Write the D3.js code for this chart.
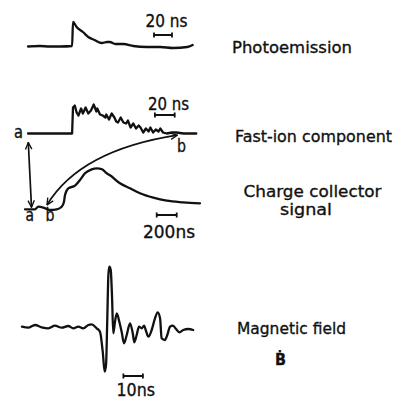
<!DOCTYPE html>
<html>
    <head>
        <title>Probe signals</title>
        <meta charset="UTF-8">
        <script src="https://cdnjs.cloudflare.com/ajax/libs/d3/7.9.0/d3.min.js"></script>
        <style>
            html, body {
                margin: 0;
                padding: 0;
                background: #fff;
            }
            text {
                font-family: 'DejaVu Sans', sans-serif;
                fill: #111;
                stroke: #111;
                stroke-width: 0.35px;
            }
        </style>
    </head>
    <body>
        <div id="chart"></div>
        <script>
            // photoemission trace (t in ns, v arb. units)
            var photoT = [0, 13, 24, 36, 49, 50, 54, 61, 67, 74, 82, 88, 91, 97, 106, 117, 132, 147, 161, 177, 183];
            var photoV = [0, 0.5, 0, 0, 0.5, 24.5, 19.5, 14.5, 9.5, 6.5, 3.5, 4.5, 4.5, 2.5, 2.5, 0.5, -0.5, -0.5, -1.5, -0.5, 1.5];

            // fast-ion component (t in ns)
            var fastT = [0, 49, 50, 52, 54, 56, 59, 61, 64, 67, 70, 73, 76, 77, 80, 83, 86, 87, 90, 93,
                         96, 98, 100, 103, 106, 109, 111, 114, 117, 120, 123, 125, 128, 131, 134, 136, 139, 142, 145, 147,
                         150, 154, 160, 165, 173, 180, 187];
            var fastV = [0, 0, 26, 28, 21, 18, 25, 20, 26, 20, 23, 29, 22, 25, 19, 18, 16, 19, 14, 20,
                         16, 12, 11, 16, 11, 10, 13, 6, 10, 5, 8, 6, 1, 5, 2, 6, 1, 4, 2, 5,
                         1, 0, 1, 1, 0, 0, 0];

            // charge collector signal (t in ns)
            var chargeT = [0, 100, 133, 183, 217, 250, 317, 367, 390, 400, 433, 500, 550, 600, 667, 720, 770, 817, 850, 950, 1050, 1150, 1283, 1417, 1583, 1750];
            var chargeV = [0, 0, 2.6, 1.6, 0.3, -0.7, 0, 2.6, 7.6, 14.3, 21, 23.6, 29.3, 36, 40, 41, 40, 36, 34, 26, 21, 16, 11.6, 8.6, 7, 6];

            // magnetic field B-dot (t in ns)
            var magT = [0, 3.2, 6.7, 10.1, 13.5, 16.9, 20.4, 23.7, 26.3, 28.9, 31.4, 34, 35.7, 38.3, 40, 41.4, 42.4, 43.1, 43.7, 44.3,
                        44.8, 45.5, 46.2, 46.8, 47.7, 48.6, 49.9, 51.1, 52.3, 53.7, 55.4, 56.8, 57.6, 58.8, 60, 61.4, 62.6, 63.6, 64.8, 66.5,
                        68.2, 69.6, 70.8, 71.6, 73.3, 74.5, 75.9, 77.3, 79, 80.7, 82.7, 85.3, 87.8];
            var magV = [1.3, 0.3, 3, 0.7, -0.3, 2.3, 0.3, 2, -0.3, 1.3, -0.3, 3, 3.7, -0.3, -3.7, -23.7, -43.7, -37, 6.3, 53,
                        61.3, 58, 29.7, -5.3, 6.3, 14.7, 6.3, -3.7, -15.3, -7, 4.7, -5.3, -14.3, -7, 1.3, -0.3, 2.3, -3, -8.7, -2,
                        9.7, 15.7, 9.7, -10.3, -12, -7, 1.3, 2.3, -1, -4.3, -2, -1, -2];

            // time scale bars [t0, t1, level]
            var photoBar = [140, 160, 11.5];
            var fastBar = [141, 163, 18.5];
            var chargeBar = [1317, 1517, -5.7];
            var magBar = [52, 62, -48];

            let w = 397;
            let h = 400;
            let ink = "#111";

            let svg = d3.select("#chart").append("svg")
                    .attr("width", w)
                    .attr("height", h)
                    .style("display", "block");

            let defs = svg.append("defs");
            defs.append("marker")
                    .attr("id", "arr")
                    .attr("viewBox", "0 0 10 10")
                    .attr("refX", 9.5)
                    .attr("refY", 5)
                    .attr("markerWidth", 8)
                    .attr("markerHeight", 8)
                    .attr("markerUnits", "userSpaceOnUse")
                    .attr("orient", "auto-start-reverse")
                    .append("path")
                    .attr("d", "M1,1 L9.5,5 L1,9")
                    .attr("fill", "none")
                    .attr("stroke", ink)
                    .attr("stroke-width", 1.7);

            function zip(ts, vs){
                return ts.map((t, i) => ({t: t, v: vs[i]}));
            }

            function trace(data, x, y, curve){
                let line = d3.line()
                        .curve(curve)
                        .x(d => x(d.t))
                        .y(d => y(d.v));
                svg.append("path")
                    .datum(data)
                    .attr("fill", "none")
                    .attr("stroke", ink)
                    .attr("stroke-width", 2.3)
                    .attr("stroke-linejoin", "round")
                    .attr("stroke-linecap", "round")
                    .attr("d", line);
            }

            function scaleBar(bar, x, y){
                let x0 = x(bar[0]), x1 = x(bar[1]), yy = y(bar[2]);
                svg.append("path")
                    .attr("fill", "none")
                    .attr("stroke", ink)
                    .attr("stroke-width", 1.8)
                    .attr("d", "M" + x0 + "," + (yy - 2.5) + "V" + (yy + 2.5)
                        + "M" + x0 + "," + yy + "H" + x1
                        + "M" + x1 + "," + (yy - 2.5) + "V" + (yy + 2.5));
            }

            function label(txt, x, y, len, size){
                let t = svg.append("text")
                    .attr("x", x)
                    .attr("y", y)
                    .style("font-size", (size || 16.5) + "px")
                    .text(txt);
                if(len){
                    t.attr("textLength", len).attr("lengthAdjust", "spacingAndGlyphs");
                }
                return t;
            }

            // scales per panel
            let xPhoto = d3.scaleLinear().domain([0, 186]).range([28, 28 + 186 * 0.9]);
            let yPhoto = d3.scaleLinear().domain([0, 25]).range([46.5, 21.5]);

            let xFast = d3.scaleLinear().domain([0, 190]).range([28, 28 + 190 * 0.9]);
            let yFast = d3.scaleLinear().domain([0, 30]).range([133.5, 103.5]);

            let xCharge = d3.scaleLinear().domain([0, 1750]).range([25, 200]);
            let yCharge = d3.scaleLinear().domain([0, 45]).range([209.3, 164.3]);

            let xMag = d3.scaleLinear().domain([0, 90]).range([22, 22 + 90 * 1.95]);
            let yMag = d3.scaleLinear().domain([-50, 65]).range([378, 263]);

            trace(zip(photoT, photoV), xPhoto, yPhoto, d3.curveMonotoneX);
            trace(zip(fastT, fastV), xFast, yFast, d3.curveLinear);
            trace(zip(chargeT, chargeV), xCharge, yCharge, d3.curveMonotoneX);
            trace(zip(magT, magV), xMag, yMag, d3.curveMonotoneX);

            scaleBar(photoBar, xPhoto, yPhoto);
            scaleBar(fastBar, xFast, yFast);
            scaleBar(chargeBar, xCharge, yCharge);
            scaleBar(magBar, xMag, yMag);

            label("20 ns", 145.5, 27, 42, 17);
            label("20 ns", 148, 110, 41, 17);
            label("200ns", 143, 238, 52, 17);
            label("10ns", 116.5, 395.5, 38.5, 17);

            // a / b markers
            label("a", 14, 137.7, 9, 18);
            label("b", 177, 151.7, 9, 18);
            label("a", 25.5, 220.5, 8.5, 18);
            label("b", 45.5, 220.5, 9, 18);

            // a -> a arrow
            let aTop = [xFast(0) + 0.3, yFast(0) + 9];
            let aBot = [xCharge(60) + 0.5, yCharge(0) - 2];
            svg.append("path")
                .attr("fill", "none")
                .attr("stroke", ink)
                .attr("stroke-width", 1.7)
                .attr("marker-start", "url(#arr)")
                .attr("marker-end", "url(#arr)")
                .attr("d", "M" + aTop[0] + "," + aTop[1] + "L" + aBot[0] + "," + aBot[1]);

            // b -> b arrow
            let bLow = [xCharge(220), yCharge(0.3) - 4];
            let bHigh = [xFast(166), yFast(1.3) + 3];
            let ctrl = [bLow[0] + 33, bHigh[1] + 15];
            svg.append("path")
                .attr("fill", "none")
                .attr("stroke", ink)
                .attr("stroke-width", 1.7)
                .attr("marker-start", "url(#arr)")
                .attr("marker-end", "url(#arr)")
                .attr("d", "M" + bLow[0] + "," + bLow[1] + "Q" + ctrl[0] + "," + ctrl[1] + " " + bHigh[0] + "," + bHigh[1]);

            // panel names
            label("Photoemission", 232, 52.7, 120);
            label("Fast-ion component", 235, 141.7, 157);
            label("Charge collector", 243.5, 197.3, 138);
            label("signal", 280, 214.5, 52);
            label("Magnetic field", 237, 334.3, 109);
            label("Ḃ", 275, 365, 11, 16.5).style("font-weight", "bold");
        </script>
    </body>
</html>
